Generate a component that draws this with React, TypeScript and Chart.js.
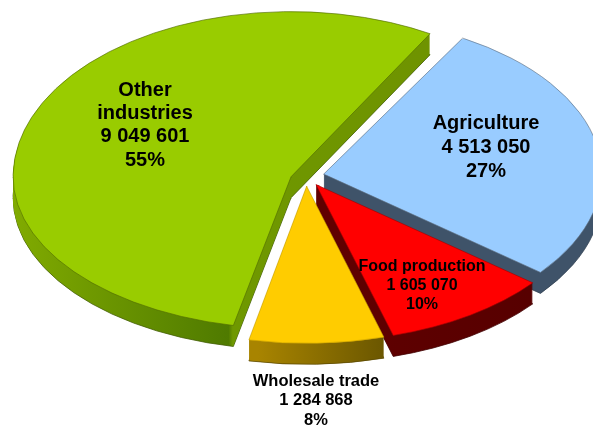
import React, { useEffect, useRef } from "react";
import { Chart, registerables } from "chart.js";

Chart.register(...registerables);

const categories = ["Agriculture", "Food production", "Wholesale trade", "Other industries"];
const employees = [4513050, 1605070, 1284868, 9049601];
const valueLabels = ["4 513 050", "1 605 070", "1 284 868", "9 049 601"];
const shareLabels = ["27%", "10%", "8%", "55%"];
const topColors = ["#99CCFF", "#FF0000", "#FFCC00", "#99CC00"];
const edgeColors = ["#5F6F80", "#A00000", "#C8A000", "#4F6A00"];
const wallOutlines = ["#2F3F50", "#400000", "#5A4800", "#3F5A00"];

const WIDTH = 593;
const HEIGHT = 426;
const RADIUS = 278;
const BASE_SQUASH = 0.57;
const CENTER_X = 306;
const CENTER_Y = [176, 176, 176, 180];
const EXPLODE = [18, 18, 18, 16];
const DEPTH = 21;

// Vertical squash above and below each slice's apex; the large slice reads as
// slightly nearer at the back than at the front.
const SQUASH: [number, number][] = [
  [0.565, 0.565],
  [0.565, 0.565],
  [0.565, 0.565],
  [0.594, 0.547],
];

// Horizontal shading of each slice's wall, as [fraction of the span, colour] stops.
const wallShades: [number, number, [number, string][]][] = [
  [0, WIDTH, [[0, "#3F5369"], [1, "#3F5369"]]],
  [316, 532, [[0, "#600000"], [1, "#560000"]]],
  [248, 384, [[0, "#A88400"], [1, "#665300"]]],
  [13, 430, [[0, "#82AC00"], [0.53, "#4F7A00"], [0.54, "#6F9800"], [1, "#6F9300"]]],
];

// Tilted, exploded pie: every arc is drawn through a squashed transform,
// first as a stack of shifted copies for the wall, then as the top face.
const tiltedPie = {
  id: "tiltedPie",
  beforeDatasetsDraw(chart: any) {
    const ctx = chart.ctx as CanvasRenderingContext2D;
    const arcs = chart.getDatasetMeta(0).data as any[];
    const order = [3, 0, 1, 2];
    const paint = (arc: any, i: number, drop: number) => {
      const mid = (arc.startAngle + arc.endAngle) / 2;
      const apexX = CENTER_X + Math.cos(mid) * EXPLODE[i];
      const apexY = CENTER_Y[i] + drop + Math.sin(mid) * EXPLODE[i] * BASE_SQUASH;
      const seam = Math.round(apexY);
      SQUASH[i].forEach((squash, half) => {
        ctx.save();
        ctx.beginPath();
        if (half === 0) ctx.rect(0, 0, WIDTH, seam + 1);
        else ctx.rect(0, seam, WIDTH, HEIGHT - seam);
        ctx.clip();
        ctx.translate(apexX, apexY);
        ctx.scale(1, squash);
        ctx.translate(-arc.x, -arc.y);
        arc.draw(ctx);
        ctx.restore();
      });
    };
    for (const i of order) {
      const arc = arcs[i];
      const faceOptions = arc.options;
      const [from, to, stops] = wallShades[i];
      const gradient = ctx.createLinearGradient(from, 0, to, 0);
      stops.forEach(([at, colour]) => gradient.addColorStop(at, colour));
      for (let drop = DEPTH; drop >= 1; drop--) {
        arc.options = {
          ...faceOptions,
          backgroundColor: gradient,
          borderColor: wallOutlines[i],
          borderWidth: drop === DEPTH ? 1 : 0,
        };
        paint(arc, i, drop);
      }
      arc.options = faceOptions;
      paint(arc, i, 0);
    }
    return false;
  },
  afterDraw(chart: any) {
    const ctx = chart.ctx as CanvasRenderingContext2D;
    const block = (lines: string[], x: number, y: number, size: number, gap: number) => {
      ctx.font = `bold ${size}px "Liberation Sans", Arial, sans-serif`;
      ctx.fillStyle = "#000000";
      ctx.textAlign = "center";
      ctx.textBaseline = "middle";
      lines.forEach((line, n) => ctx.fillText(line, x, y + n * gap));
    };
    const [otherFirst, otherSecond] = categories[3].split(" ");
    block([otherFirst, otherSecond, valueLabels[3], shareLabels[3]], 145, 90, 20, 23.4);
    block([categories[0], valueLabels[0], shareLabels[0]], 486, 123, 20, 24);
    block([categories[1], valueLabels[1], shareLabels[1]], 422, 267, 16, 19);
    block([categories[2], valueLabels[2], shareLabels[2]], 316, 381, 16.5, 19.5);
  },
};

export default function App() {
  const canvasRef = useRef<HTMLCanvasElement>(null);

  useEffect(() => {
    const chart = new Chart(canvasRef.current as HTMLCanvasElement, {
      type: "pie",
      data: {
        labels: categories,
        datasets: [
          {
            data: employees,
            backgroundColor: topColors,
            borderColor: edgeColors,
            borderWidth: 0.8,
          },
        ],
      },
      options: {
        responsive: false,
        animation: false,
        rotation: 30,
        radius: RADIUS,
        events: [],
        plugins: { legend: { display: false }, tooltip: { enabled: false } },
      },
      plugins: [tiltedPie],
    } as any);
    return () => chart.destroy();
  }, []);

  return (
    <canvas
      ref={canvasRef}
      width={WIDTH}
      height={HEIGHT}
      style={{ position: "absolute", left: 0, top: 0, background: "#FFFFFF" }}
    />
  );
}
